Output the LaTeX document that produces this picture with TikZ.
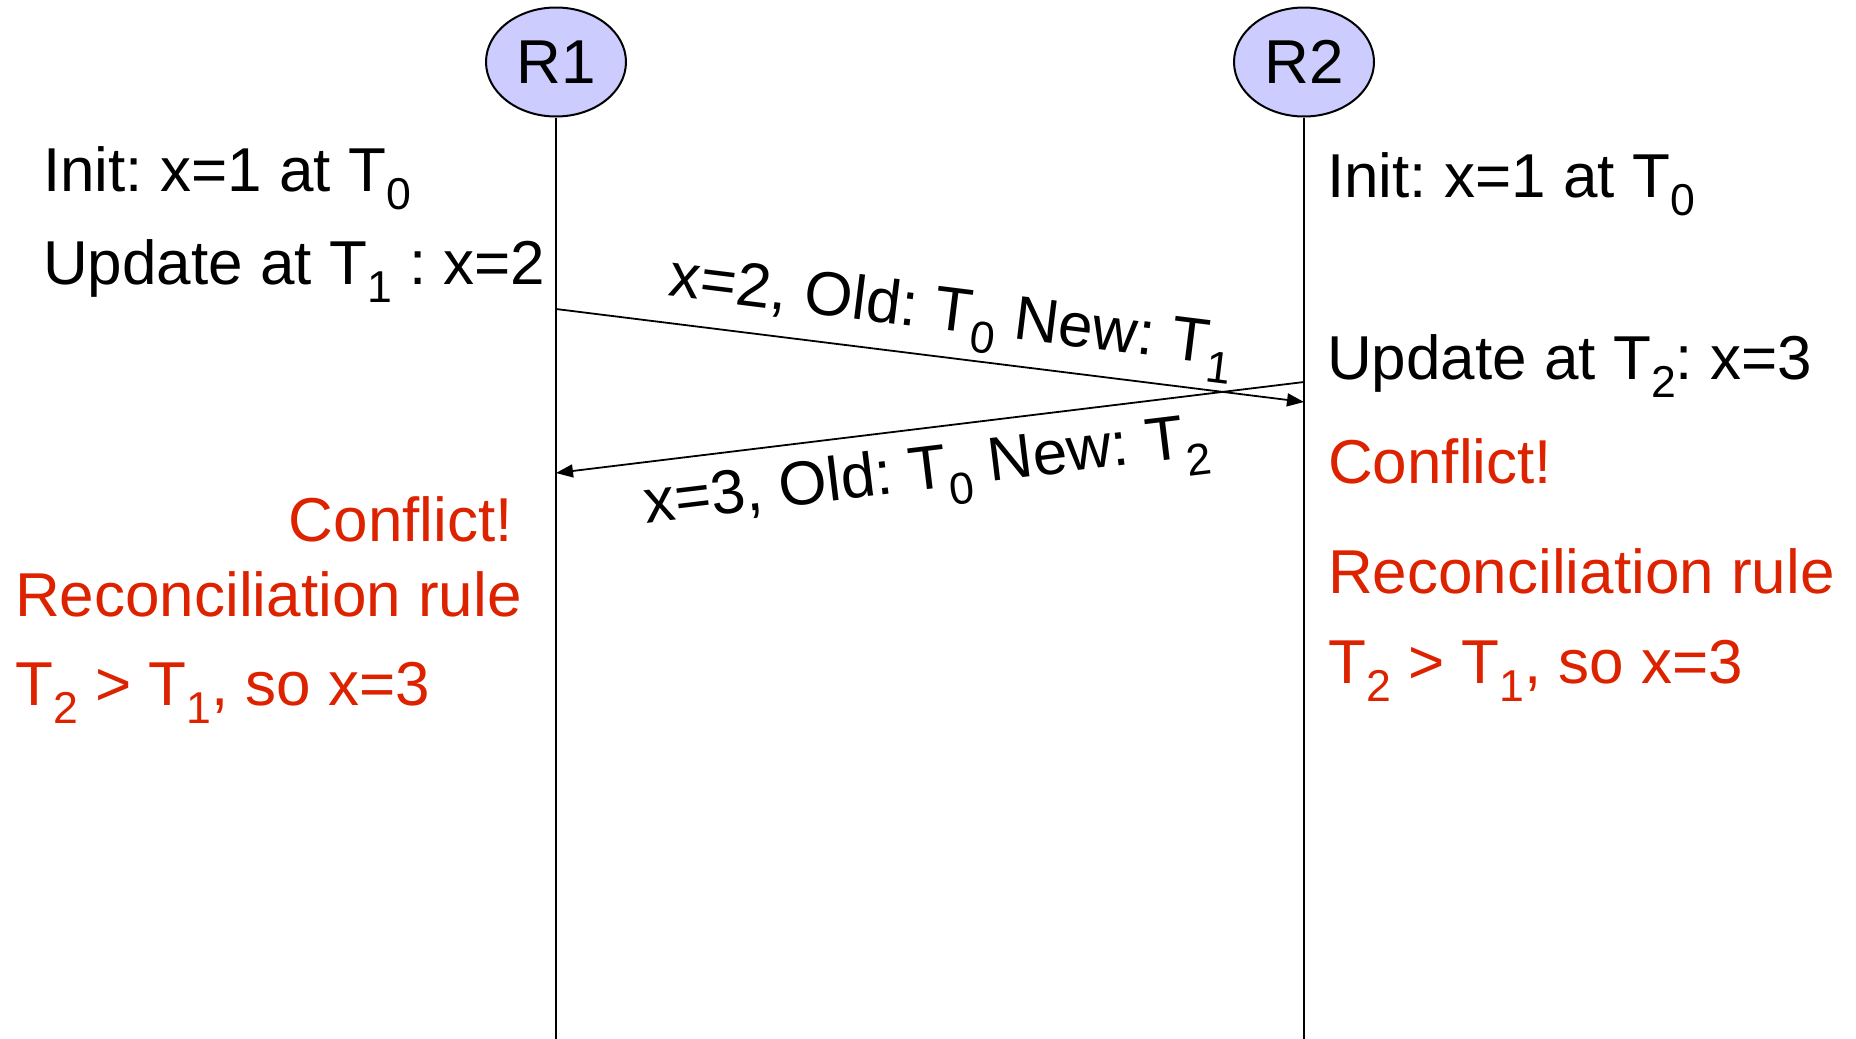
\documentclass[tikz,border=0pt]{standalone}
\usepackage{fontspec}
\setmainfont{Liberation Sans}
\usetikzlibrary{arrows.meta,positioning,shapes.geometric}
\definecolor{alertred}{RGB}{221,34,0}
\definecolor{procfill}{RGB}{204,204,255}
\newcommand{\ts}[1]{\raisebox{-0.3em}{\scalebox{0.72}{#1}}}
\frenchspacing

\begin{document}
\begin{tikzpicture}[x=1pt,y=-1pt,
  proc/.style={ellipse,draw,line width=2pt,fill=procfill,minimum width=140pt,minimum height=109pt,inner sep=0,font=\fontsize{62}{74}\selectfont},
  txt/.style={anchor=base west,inner sep=0,font=\fontsize{62}{74}\selectfont},
  alert/.style={txt,text=alertred},
  life/.style={line width=2pt},
  msg/.style={line width=1.8pt,-{Triangle[length=17pt,width=13pt]}},
  lbl/.style={sloped,anchor=base,inner sep=0,font=\fontsize{62}{74}\selectfont}]
  \useasboundingbox (0,0) rectangle (1856,1039);
  % replicas and their time lines
  \node[proc] (R1) at (556,62) {R1};
  \node[proc] (R2) at (1304,62) {R2};
  \coordinate (R1end) at (556,1039);
  \coordinate (R2end) at (1304,1039);
  \foreach \r in {R1,R2} \draw[life] (\r.south) -- (\r end);
  % left side
  \node[txt] (init1) at (43,191) {Init: x=1 at T\ts{0}};
  \node[txt] (upd1) at (43,284) {Update at T\ts{1} : x=2};
  \node[alert,anchor=base east] (conf1) at (513,541) {Conflict!};
  \node[alert] (rule1) at (15,616) {Reconciliation rule};
  \node[alert] (ord1) at (15,705) {T\ts{2} > T\ts{1}, so x=3};
  % right side
  \node[txt] (init2) at (1327,197) {Init: x=1 at T\ts{0}};
  \node[txt] (upd2) at (1327,379) {Update at T\ts{2}: x=3};
  \node[alert] (conf2) at (1328,483) {Conflict!};
  \node[alert] (rule2) at (1328,593) {Reconciliation rule};
  \node[alert] (ord2) at (1328,683) {T\ts{2} > T\ts{1}, so x=3};
  % messages
  \coordinate (m1a) at (556,309);
  \coordinate (m1b) at (1304,402);
  \coordinate (m2a) at (1304,382);
  \coordinate (m2b) at (556,473);
  \draw[msg] (m1a) -- node[lbl,pos=0.522,yshift=27pt] (lab1) {x=2, Old: T\ts{0} New: T\ts{1}} (m1b);
  \draw[msg] (m2a) -- node[lbl,pos=0.512,yshift=-61pt] (lab2) {x=3, Old: T\ts{0} New: T\ts{2}} (m2b);
\end{tikzpicture}
\end{document}
